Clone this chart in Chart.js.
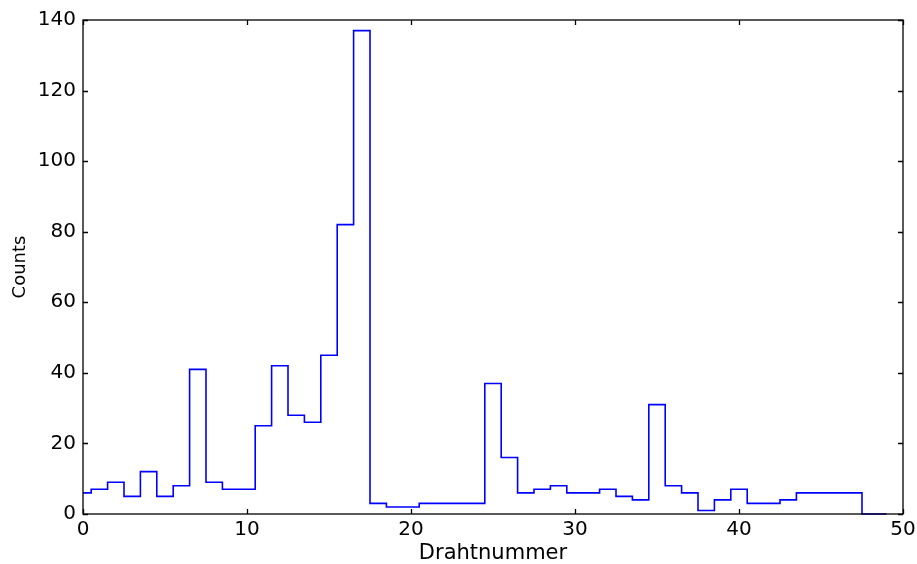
<!DOCTYPE html>
<html>
<head>
<meta charset="utf-8">
<script src="https://cdn.jsdelivr.net/npm/chart.js@4.4.1/dist/chart.umd.min.js"></script>
<style>
  html, body { margin: 0; padding: 0; background: #fff; }
  #wrap { width: 917px; height: 564px; position: relative; }
</style>
</head>
<body>
<div id="wrap"><canvas id="c"></canvas></div>
<script>
// Hits per wire (one bin per wire number)
const wireNumbers = [
  0, 1, 2, 3, 4, 5, 6, 7, 8, 9,
  10, 11, 12, 13, 14, 15, 16, 17, 18, 19,
  20, 21, 22, 23, 24, 25, 26, 27, 28, 29,
  30, 31, 32, 33, 34, 35, 36, 37, 38, 39,
  40, 41, 42, 43, 44, 45, 46, 47, 48
];
const counts = [
  6, 7, 9, 5, 12, 5, 8, 41, 9, 7,
  7, 25, 42, 28, 26, 45, 82, 137, 3, 2,
  2, 3, 3, 3, 3, 37, 16, 6, 7, 8,
  6, 6, 7, 5, 4, 31, 8, 6, 1, 4,
  7, 3, 3, 4, 6, 6, 6, 6, 0
];
// upper edge of the last bin
const lastEdge = 49;

const xTicks = [0, 10, 20, 30, 40, 50];
const yTicks = [0, 20, 40, 60, 80, 100, 120, 140];
const xTitle = 'Drahtnummer';
const yTitle = 'Counts';

// Step outline: rise from zero at the first left edge, one point per bin
// left edge, then drop back to zero at the final edge.
const outline = [{ x: wireNumbers[0] - 0.5, y: 0 }];
wireNumbers.forEach((w, i) => outline.push({ x: w - 0.5, y: counts[i] }));
outline.push({ x: lastEdge, y: counts[counts.length - 1] });
outline.push({ x: lastEdge, y: 0 });

const FONT = 'DejaVu Sans';

// Closed box around the plot with inward tick marks on all four sides
const frameTicks = {
  id: 'frameTicks',
  afterDatasetsDraw(chart) {
    const { ctx, chartArea: a, scales: { x, y } } = chart;
    const L = 5;
    ctx.save();
    ctx.strokeStyle = '#000';
    ctx.lineWidth = 1.3;
    ctx.beginPath();
    x.ticks.forEach(t => {
      const px = Math.round(x.getPixelForValue(t.value)) + 0.5;
      ctx.moveTo(px, a.bottom); ctx.lineTo(px, a.bottom - L);
      ctx.moveTo(px, a.top); ctx.lineTo(px, a.top + L);
    });
    y.ticks.forEach(t => {
      const py = Math.round(y.getPixelForValue(t.value)) + 0.5;
      ctx.moveTo(a.left, py); ctx.lineTo(a.left + L, py);
      ctx.moveTo(a.right, py); ctx.lineTo(a.right - L, py);
    });
    ctx.stroke();
    ctx.strokeRect(a.left, a.top, a.right - a.left, a.bottom - a.top);
    ctx.restore();
  }
};

new Chart(document.getElementById('c'), {
  type: 'line',
  data: {
    datasets: [{
      data: outline,
      stepped: 'before',
      borderColor: '#0000ff',
      borderWidth: 1.6,
      pointRadius: 0,
      fill: false,
      clip: { left: 0, right: 0, top: 2, bottom: 2 }
    }]
  },
  options: {
    responsive: true,
    maintainAspectRatio: false,
    animation: false,
    events: [],
    layout: { padding: { top: 20, right: 14, left: 0, bottom: 0 } },
    plugins: { legend: { display: false }, tooltip: { enabled: false } },
    scales: {
      x: {
        type: 'linear',
        min: xTicks[0],
        max: xTicks[xTicks.length - 1],
        afterBuildTicks: s => { s.ticks = xTicks.map(v => ({ value: v })); },
        afterFit: s => { s.height = 50; s.paddingLeft = 0; s.paddingRight = 0; },
        grid: { display: true, drawOnChartArea: false, drawTicks: false },
        border: { display: false },
        ticks: { color: '#000', font: { family: FONT, size: 20 }, padding: 4, maxRotation: 0, autoSkip: false },
        title: { display: true, text: xTitle, color: '#000', font: { family: FONT, size: 21 }, padding: { top: 0, bottom: -2 } }
      },
      y: {
        type: 'linear',
        min: yTicks[0],
        max: yTicks[yTicks.length - 1],
        afterBuildTicks: s => { s.ticks = yTicks.map(v => ({ value: v })); },
        afterFit: s => { s.width = 83; s.paddingTop = 0; s.paddingBottom = 0; },
        grid: { display: true, drawOnChartArea: false, drawTicks: false },
        border: { display: false },
        ticks: { color: '#000', font: { family: FONT, size: 20 }, padding: 7, autoSkip: false },
        title: { display: true, text: yTitle, color: '#000', font: { family: FONT, size: 18 }, padding: { top: 10, bottom: 0 } }
      }
    }
  },
  plugins: [frameTicks]
});
</script>
</body>
</html>
